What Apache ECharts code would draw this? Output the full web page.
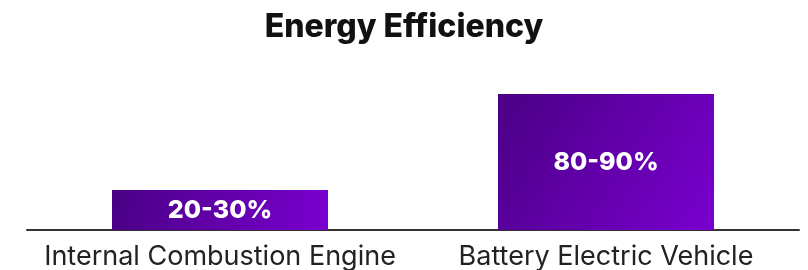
<!DOCTYPE html>
<html>
<head>
<meta charset="utf-8">
<script src="https://cdn.jsdelivr.net/npm/echarts@6/dist/echarts.min.js"></script>
<style>
  html, body { margin: 0; padding: 0; background: #fff; }
  #chart { width: 808px; height: 270px; }
</style>
</head>
<body>
<div id="chart"></div>
<script>
// data
const categories = ["Internal Combustion Engine", "Battery Electric Vehicle"];
const efficiency = [25, 85];
const efficiencyLabels = ["20-30%", "80-90%"];

const myChart = echarts.init(document.getElementById("chart"));

// purple gradient, dark top-left to lighter bottom-right
const barColor = new echarts.graphic.LinearGradient(0, 0, 1, 1, [
  { offset: 0, color: "#4a0085" },
  { offset: 1, color: "#7a00cf" }
]);

myChart.setOption({
  animation: false,
  title: {
    text: "Energy Efficiency",
    left: "center",
    top: 6,
    textStyle: {
      fontFamily: "Inter",
      fontWeight: 800,
      fontSize: 32,
      color: "#111"
    }
  },
  grid: {
    left: 27,
    right: 9,
    top: 70,
    bottom: 40,
    outerBoundsMode: "none"
  },
  xAxis: {
    type: "category",
    data: categories,
    axisTick: { show: false },
    axisLine: { lineStyle: { color: "#333", width: 2 } },
    axisLabel: {
      interval: 0,
      hideOverlap: false,
      margin: 13,
      fontFamily: "Inter",
      fontSize: 27,
      color: "#222"
    }
  },
  yAxis: {
    type: "value",
    min: 0,
    max: 100,
    show: false
  },
  series: [
    {
      type: "bar",
      data: efficiency,
      barWidth: 216,
      itemStyle: { color: barColor },
      label: {
        show: true,
        position: "inside",
        formatter: function (p) { return efficiencyLabels[p.dataIndex]; },
        fontFamily: "Inter",
        fontWeight: 800,
        fontSize: 25,
        color: "#fff"
      }
    }
  ]
});

window.onresize = function () {
  myChart.resize();
};
</script>
</body>
</html>
